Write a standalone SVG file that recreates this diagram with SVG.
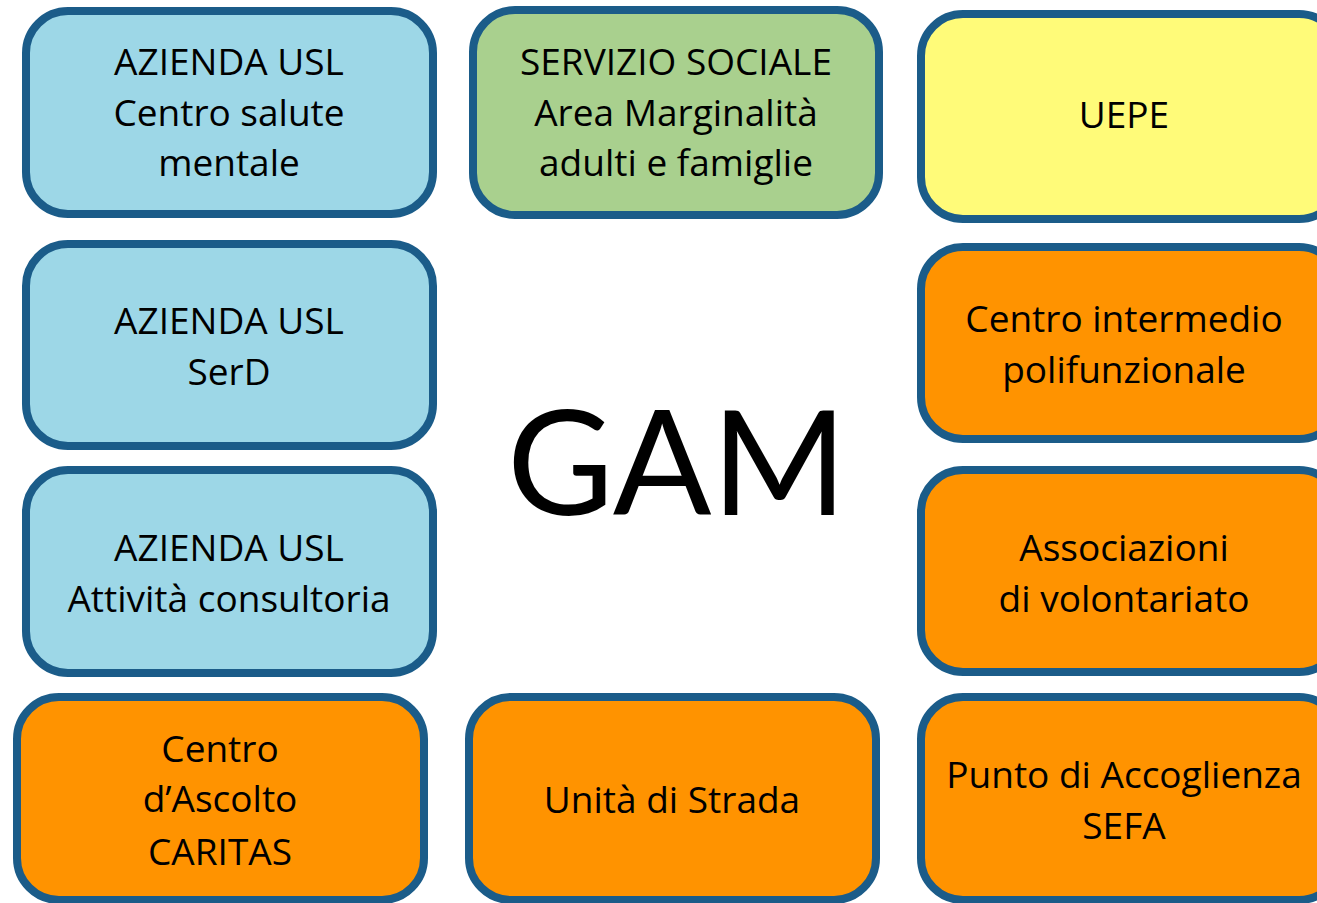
<svg xmlns="http://www.w3.org/2000/svg" width="1317" height="903" viewBox="0 0 1317 903">
<style>
.box{stroke:#1B5C89;stroke-width:8}
.blue{fill:#9DD7E7}
.green{fill:#A9D08E}
.yellow{fill:#FFFB79}
.orange{fill:#FF9300}
text{font-family:"Open Sans","Liberation Sans",sans-serif;font-size:37px;fill:#000;text-anchor:middle;font-variant-ligatures:none}
.big{font-family:Lato,"Open Sans",sans-serif;font-size:146px}
</style>
<rect width="1317" height="903" fill="#fff"/>
<g id="connectors"/>
<g id="n-csm"><rect class="box blue" x="26" y="11" width="407" height="203" rx="42"/>
<text x="229" y="75">AZIENDA USL</text><text x="229" y="126">Centro salute</text><text x="229" y="176">mentale</text></g>
<g id="n-servizio"><rect class="box green" x="473" y="10" width="406" height="205" rx="42"/>
<text x="676" y="75">SERVIZIO SOCIALE</text><text x="676" y="126">Area Marginalità</text><text x="676" y="176">adulti e famiglie</text></g>
<g id="n-uepe"><rect class="box yellow" x="921" y="14" width="420" height="205" rx="42"/>
<text x="1124" y="128">UEPE</text></g>
<g id="n-serd"><rect class="box blue" x="26" y="244" width="407" height="202" rx="42"/>
<text x="229" y="334">AZIENDA USL</text><text x="229" y="385">SerD</text></g>
<g id="n-centro"><rect class="box orange" x="921" y="247" width="420" height="192" rx="42"/>
<text x="1124" y="332">Centro intermedio</text><text x="1124" y="383">polifunzionale</text></g>
<g id="n-consult"><rect class="box blue" x="26" y="470" width="407" height="203" rx="42"/>
<text x="229" y="561">AZIENDA USL</text><text x="229" y="612">Attività consultoria</text></g>
<g id="n-assoc"><rect class="box orange" x="921" y="470" width="420" height="202" rx="42"/>
<text x="1124" y="561">Associazioni</text><text x="1124" y="612">di volontariato</text></g>
<g id="n-caritas"><rect class="box orange" x="17" y="697" width="407" height="203" rx="42"/>
<text x="220" y="762">Centro</text><text x="220" y="812">d’Ascolto</text><text x="220" y="865">CARITAS</text></g>
<g id="n-strada"><rect class="box orange" x="469" y="697" width="407" height="203" rx="42"/>
<text x="672" y="813">Unità di Strada</text></g>
<g id="n-sefa"><rect class="box orange" x="921" y="697" width="420" height="203" rx="42"/>
<text x="1124" y="788">Punto di Accoglienza</text><text x="1124" y="839">SEFA</text></g>
<g id="n-gam"><text class="big" x="677" y="515">GAM</text></g>
</svg>
